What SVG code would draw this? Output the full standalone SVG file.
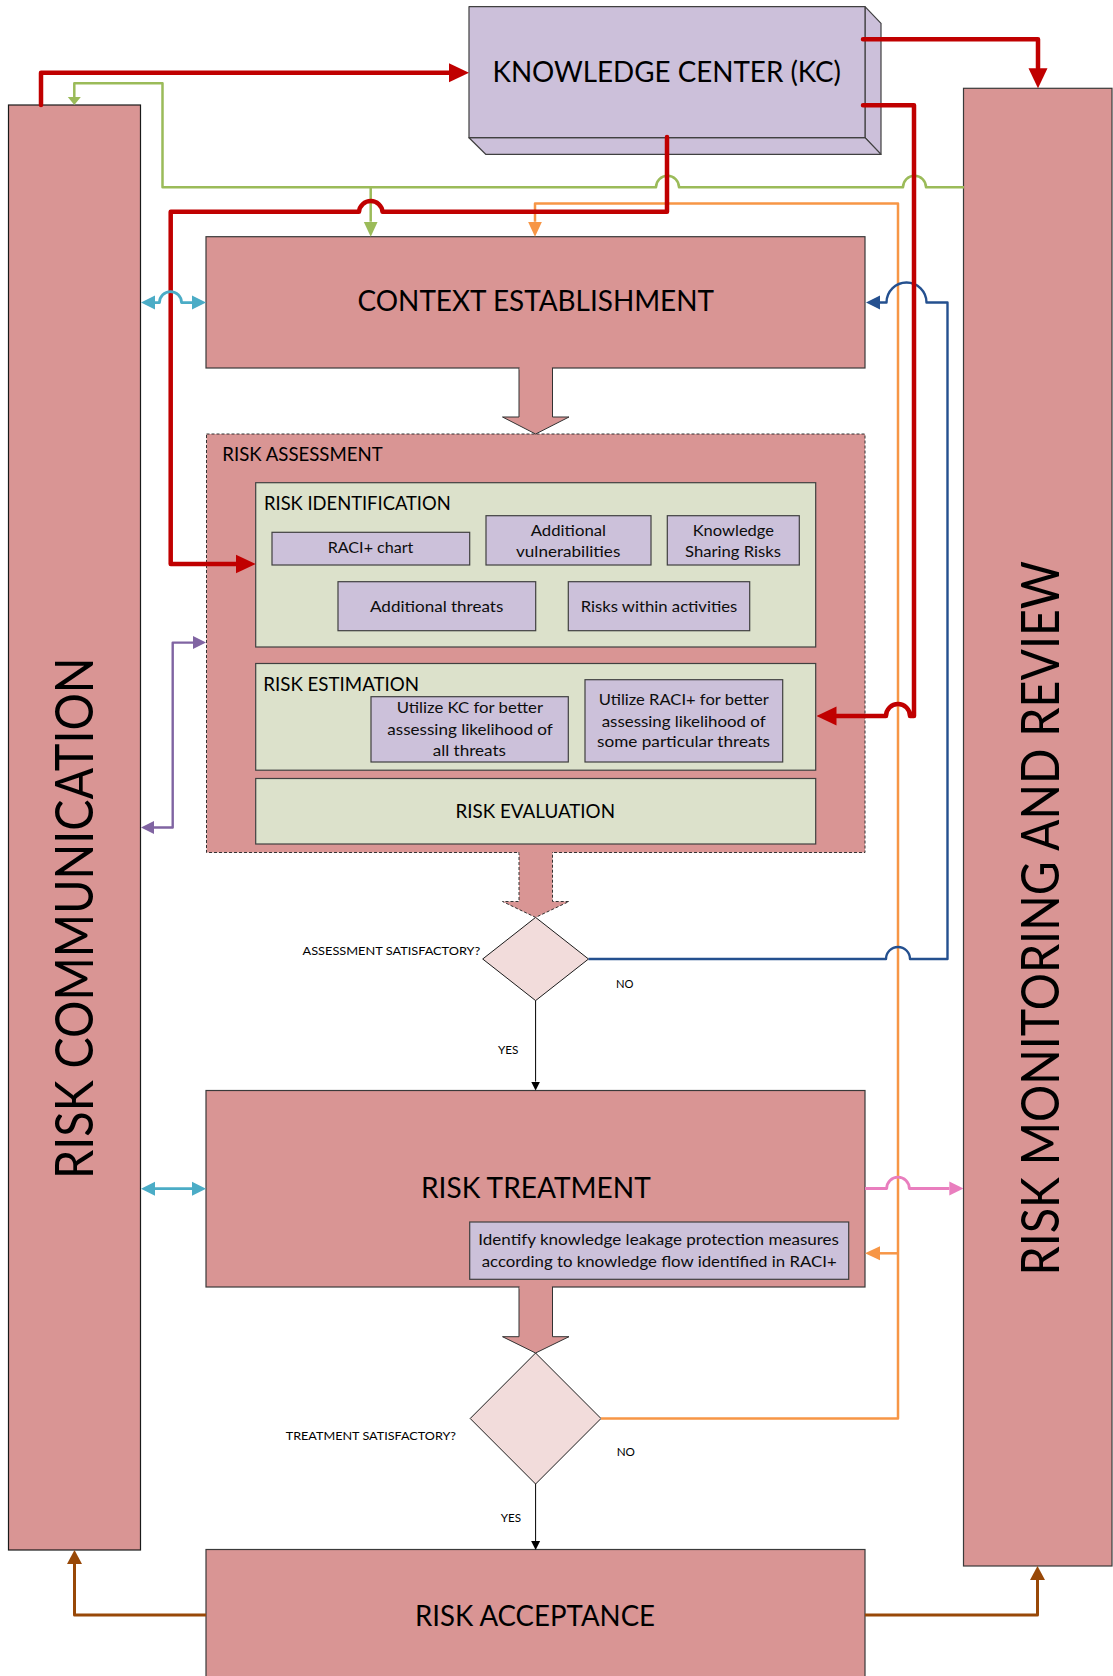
<svg xmlns="http://www.w3.org/2000/svg" width="1113" height="1676" viewBox="0 0 1113 1676">
<defs>
<style>
.box{fill:#D99594;stroke:#3a3a3a;stroke-width:1.2}
.col{fill:#D99594;stroke:#1a1a1a;stroke-width:1.2}
.dash{fill:#D99594;stroke:#333;stroke-width:1;stroke-dasharray:3 2}
.sub{fill:#DCE1CB;stroke:#404040;stroke-width:1.2}
.item{fill:#CCC1DA;stroke:#404040;stroke-width:1.2}
.kc{fill:#CCC0DA;stroke:#404040;stroke-width:1.2;stroke-linejoin:round}
.dia{fill:#F2DCDB;stroke:#1a1a1a;stroke-width:1}
.blk{fill:#D99594;stroke:#333;stroke-width:1}
.blkd{fill:#D99594;stroke:#333;stroke-width:1;stroke-dasharray:3 2}
.cover{fill:#D99594;stroke:none}
text{font-family:Lato,"Open Sans","Liberation Sans",sans-serif;fill:#000}
.big{font-size:28px}
.vert{font-size:52px}
.mid{font-size:19.5px}
.sm{font-size:15px;fill:#0d0d0d}
.xs{font-size:12px}
.c{fill:none;stroke-linejoin:round}
.red{stroke:#C00000;stroke-width:4.5;stroke-linecap:round}
.grn{stroke:#9BBB59;stroke-width:2.5}
.org{stroke:#F79646;stroke-width:2.5}
.blu{stroke:#24508F;stroke-width:2.4}
.cya{stroke:#4BACC6;stroke-width:2.8}
.pur{stroke:#8064A2;stroke-width:2.4}
.pnk{stroke:#E97EBE;stroke-width:2.8}
.brn{stroke:#984807;stroke-width:3}
.blkl{stroke:#000;stroke-width:1}
</style>
<marker id="mRed" markerUnits="userSpaceOnUse" viewBox="0 -10 20 20" markerWidth="20" markerHeight="20" refX="0" refY="0" orient="auto-start-reverse"><path d="M0,-9.5 L20,0 L0,9.5 z" fill="#C00000"/></marker>
<marker id="mGrn" markerUnits="userSpaceOnUse" viewBox="0 -8 15 16" markerWidth="15" markerHeight="16" refX="0" refY="0" orient="auto-start-reverse"><path d="M0,-7 L15,0 L0,7 z" fill="#9BBB59"/></marker>
<marker id="mGrnS" markerUnits="userSpaceOnUse" viewBox="0 -7 9 14" markerWidth="9" markerHeight="14" refX="0" refY="0" orient="auto-start-reverse"><path d="M0,-6.5 L8,0 L0,6.5 z" fill="#9BBB59"/></marker>
<marker id="mOrg" markerUnits="userSpaceOnUse" viewBox="0 -8 15 16" markerWidth="15" markerHeight="16" refX="0" refY="0" orient="auto-start-reverse"><path d="M0,-7 L15,0 L0,7 z" fill="#F79646"/></marker>
<marker id="mBlu" markerUnits="userSpaceOnUse" viewBox="0 -8 14 16" markerWidth="14" markerHeight="16" refX="0" refY="0" orient="auto-start-reverse"><path d="M0,-7 L14,0 L0,7 z" fill="#24508F"/></marker>
<marker id="mCya" markerUnits="userSpaceOnUse" viewBox="0 -8 14 16" markerWidth="14" markerHeight="16" refX="0" refY="0" orient="auto-start-reverse"><path d="M0,-7 L14,0 L0,7 z" fill="#4BACC6"/></marker>
<marker id="mPur" markerUnits="userSpaceOnUse" viewBox="0 -7 13 14" markerWidth="13" markerHeight="14" refX="0" refY="0" orient="auto-start-reverse"><path d="M0,-6.5 L13,0 L0,6.5 z" fill="#8064A2"/></marker>
<marker id="mPnk" markerUnits="userSpaceOnUse" viewBox="0 -8 14 16" markerWidth="14" markerHeight="16" refX="0" refY="0" orient="auto-start-reverse"><path d="M0,-7 L14,0 L0,7 z" fill="#E97EBE"/></marker>
<marker id="mBrn" markerUnits="userSpaceOnUse" viewBox="0 -8 14 16" markerWidth="14" markerHeight="16" refX="0" refY="0" orient="auto-start-reverse"><path d="M0,-7.5 L14,0 L0,7.5 z" fill="#984807"/></marker>
<marker id="mBlk" markerUnits="userSpaceOnUse" viewBox="0 -5 9 10" markerWidth="9" markerHeight="10" refX="0" refY="0" orient="auto-start-reverse"><path d="M0,-4.5 L9,0 L0,4.5 z" fill="#000"/></marker>
</defs>

<rect width="1113" height="1676" fill="#fff"/>

<!-- side columns -->
<g id="risk-communication">
<rect class="col" x="8.5" y="105" width="132" height="1445"/>
<text class="vert" transform="translate(93,1179) rotate(-90)" textLength="521.5" lengthAdjust="spacingAndGlyphs">RISK COMMUNICATION</text>
</g>
<g id="risk-monitoring">
<rect class="box" x="963.5" y="88.3" width="148.5" height="1477.7"/>
<text class="vert" transform="translate(1058.5,1275.5) rotate(-90)" textLength="714.5" lengthAdjust="spacingAndGlyphs">RISK MONITORING AND REVIEW</text>
</g>

<!-- knowledge center (extruded box) -->
<g id="knowledge-center">
<polygon class="kc" points="865,6.7 881,23.3 881,154.3 865,137.7"/>
<polygon class="kc" points="469,137.7 865,137.7 881,154.3 485.7,154.3"/>
<rect class="kc" x="469" y="6.7" width="396" height="131"/>
<text class="big" x="492.5" y="81.7" textLength="348.5" lengthAdjust="spacingAndGlyphs">KNOWLEDGE CENTER (KC)</text>
</g>

<g id="context-establishment">
<rect class="box" x="206" y="236.7" width="659" height="131.3"/>
<text class="big" x="357.5" y="311" textLength="356.5" lengthAdjust="spacingAndGlyphs">CONTEXT ESTABLISHMENT</text>
</g>

<g id="risk-assessment">
<rect class="dash" x="206.5" y="434" width="658.5" height="418.5"/>
<text class="mid" x="222.3" y="460.7" textLength="160.4" lengthAdjust="spacingAndGlyphs">RISK ASSESSMENT</text>
</g>

<g id="risk-identification">
<rect class="sub" x="255.7" y="482.7" width="560" height="164.3"/>
<text class="mid" x="264" y="510" textLength="186.7" lengthAdjust="spacingAndGlyphs">RISK IDENTIFICATION</text>
</g>
<g id="raci-chart">
<rect class="item" x="272" y="532.3" width="197.7" height="32.7"/>
<text class="sm" x="327.7" y="553.3" textLength="85.7" lengthAdjust="spacingAndGlyphs">RACI+ chart</text>
</g>
<g id="additional-vulnerabilities">
<rect class="item" x="486" y="515.7" width="165" height="49.3"/>
<text class="sm" x="530.7" y="536" textLength="75.3" lengthAdjust="spacingAndGlyphs">Additional</text>
<text class="sm" x="516" y="557.3" textLength="104.3" lengthAdjust="spacingAndGlyphs">vulnerabilities</text>
</g>
<g id="knowledge-sharing-risks">
<rect class="item" x="667.3" y="515.7" width="132" height="49.3"/>
<text class="sm" x="692.7" y="536" textLength="81.3" lengthAdjust="spacingAndGlyphs">Knowledge</text>
<text class="sm" x="685" y="557.3" textLength="96" lengthAdjust="spacingAndGlyphs">Sharing Risks</text>
</g>
<g id="additional-threats">
<rect class="item" x="338" y="581.7" width="197.7" height="49"/>
<text class="sm" x="370" y="611.7" textLength="133.3" lengthAdjust="spacingAndGlyphs">Additional threats</text>
</g>
<g id="risks-within-activities">
<rect class="item" x="568.3" y="581.7" width="181.4" height="49"/>
<text class="sm" x="580.7" y="611.7" textLength="156.6" lengthAdjust="spacingAndGlyphs">Risks within activities</text>
</g>

<g id="risk-estimation">
<rect class="sub" x="255.7" y="663.5" width="560" height="106.7"/>
<text class="mid" x="263.3" y="690.7" textLength="155.7" lengthAdjust="spacingAndGlyphs">RISK ESTIMATION</text>
</g>
<g id="utilize-kc">
<rect class="item" x="371" y="696.7" width="197.3" height="65.3"/>
<text class="sm" x="396.7" y="712.7" textLength="146.3" lengthAdjust="spacingAndGlyphs">Utilize KC for better</text>
<text class="sm" x="387.3" y="734.7" textLength="165.5" lengthAdjust="spacingAndGlyphs">assessing likelihood of</text>
<text class="sm" x="432.7" y="756" textLength="73.3" lengthAdjust="spacingAndGlyphs">all threats</text>
</g>
<g id="utilize-raci">
<rect class="item" x="585" y="679.7" width="197.7" height="82.3"/>
<text class="sm" x="598.7" y="705" textLength="170" lengthAdjust="spacingAndGlyphs">Utilize RACI+ for better</text>
<text class="sm" x="601.7" y="726.7" textLength="164" lengthAdjust="spacingAndGlyphs">assessing likelihood of</text>
<text class="sm" x="597" y="747.3" textLength="173" lengthAdjust="spacingAndGlyphs">some particular threats</text>
</g>

<g id="risk-evaluation">
<rect class="sub" x="255.7" y="778.5" width="560" height="65.5"/>
<text class="mid" x="455.5" y="818.3" textLength="159.5" lengthAdjust="spacingAndGlyphs">RISK EVALUATION</text>
</g>

<g id="assessment-decision">
<polygon class="dia" points="535.6,917.4 588.5,959 535.6,1000.6 482.7,959"/>
<text class="xs" x="302.5" y="955" textLength="177.8" lengthAdjust="spacingAndGlyphs">ASSESSMENT SATISFACTORY?</text>
</g>

<g id="risk-treatment">
<rect class="box" x="206" y="1090.5" width="659" height="196.5"/>
<text class="big" x="421" y="1198.3" textLength="229.7" lengthAdjust="spacingAndGlyphs">RISK TREATMENT</text>
</g>
<g id="leakage-protection">
<rect class="item" x="469.7" y="1222" width="379" height="57.3"/>
<text class="sm" x="478.3" y="1245" textLength="360.7" lengthAdjust="spacingAndGlyphs">Identify knowledge leakage protection measures</text>
<text class="sm" x="481.7" y="1266.7" textLength="355" lengthAdjust="spacingAndGlyphs">according to knowledge flow identified in RACI+</text>
</g>

<g id="treatment-decision">
<polygon class="dia" points="535.6,1353 601,1418.5 535.6,1484 470.2,1418.5"/>
<text class="xs" x="285.7" y="1440" textLength="170.3" lengthAdjust="spacingAndGlyphs">TREATMENT SATISFACTORY?</text>
</g>

<g id="risk-acceptance">
<rect class="box" x="206" y="1549.5" width="659" height="140"/>
<text class="big" x="415" y="1626" textLength="240" lengthAdjust="spacingAndGlyphs">RISK ACCEPTANCE</text>
</g>

<g id="connectors">
<!-- block arrows between process steps -->
<path class="blk" d="M519,368 V417 H502.5 L535.6,434 L569,417 H552.5 V368"/>
<rect class="cover" x="519.6" y="366" width="32.3" height="4"/>
<path class="blkd" d="M519,852 V901.5 H502.5 L535.6,917.4 L569,901.5 H552.5 V852"/>
<rect class="cover" x="519.6" y="850" width="32.3" height="4"/>
<path class="blk" d="M519,1287 V1336.7 H502.5 L535.6,1353 L569,1336.7 H552.5 V1287"/>
<rect class="cover" x="519.6" y="1285" width="32.3" height="4"/>

<!-- yes branches -->
<path class="c blkl" d="M535.6,1000.6 V1081.6" marker-end="url(#mBlk)"/>
<path class="c blkl" d="M535.6,1484 V1541" marker-end="url(#mBlk)"/>
<text class="xs" x="498" y="1054" textLength="20.5" lengthAdjust="spacingAndGlyphs">YES</text>
<text class="xs" x="500.7" y="1522.3" textLength="20.3" lengthAdjust="spacingAndGlyphs">YES</text>

<!-- green: monitoring feedback -->
<path class="c grn" d="M964,187.3 H926 A11.5 11.5 0 0 0 903,187.3 H679 A11.5 11.5 0 0 0 656,187.3 H162.5 V83.3 H74.3 V97" marker-end="url(#mGrnS)"/>
<path class="c grn" d="M370.7,187.3 V221.7" marker-end="url(#mGrn)"/>

<!-- orange: treatment not satisfactory -->
<path class="c org" d="M601,1418.5 H898 V203.5 H535 V221.7" marker-end="url(#mOrg)"/>
<path class="c org" d="M898,1253.3 H880" marker-end="url(#mOrg)"/>
<text class="xs" x="616.7" y="1456" textLength="18.3" lengthAdjust="spacingAndGlyphs">NO</text>

<!-- blue: assessment not satisfactory -->
<path class="c blu" d="M588.5,959 H886 A12 12 0 0 1 910,959 H947.5 V302.5 H926.5 A20 20 0 0 0 886.5,302.5 H880" marker-end="url(#mBlu)"/>
<text class="xs" x="616" y="987.5" textLength="17.5" lengthAdjust="spacingAndGlyphs">NO</text>

<!-- red: knowledge center links -->
<path class="c red" d="M41,105 V72.7 H449" marker-end="url(#mRed)"/>
<path class="c red" d="M863,39.3 H1038 V68.3" marker-end="url(#mRed)"/>
<path class="c red" d="M863,105.3 H914 V716 H910 A12 12 0 0 0 886,716 H836.5" marker-end="url(#mRed)"/>
<path class="c red" d="M667,137 V211.7 H382.5 A11.8 11.8 0 0 0 359,211.7 H170.7 V564 H235.7" marker-end="url(#mRed)"/>

<!-- communication links -->
<path class="c cya" d="M155,302.6 H159.5 A11 11 0 0 1 181.5,302.6 H192" marker-start="url(#mCya)" marker-end="url(#mCya)"/>
<path class="c cya" d="M155,1188.7 H192" marker-start="url(#mCya)" marker-end="url(#mCya)"/>
<path class="c pur" d="M193,642.6 H172.7 V827.5 H154" marker-start="url(#mPur)" marker-end="url(#mPur)"/>

<!-- treatment to monitoring -->
<path class="c pnk" d="M865,1188.5 H886.7 A11.3 11.3 0 0 1 909.3,1188.5 H949.3" marker-end="url(#mPnk)"/>

<!-- acceptance outputs -->
<path class="c brn" d="M206,1615 H74.5 V1564" marker-end="url(#mBrn)"/>
<path class="c brn" d="M865,1615 H1037.5 V1580" marker-end="url(#mBrn)"/>
</g>
</svg>
